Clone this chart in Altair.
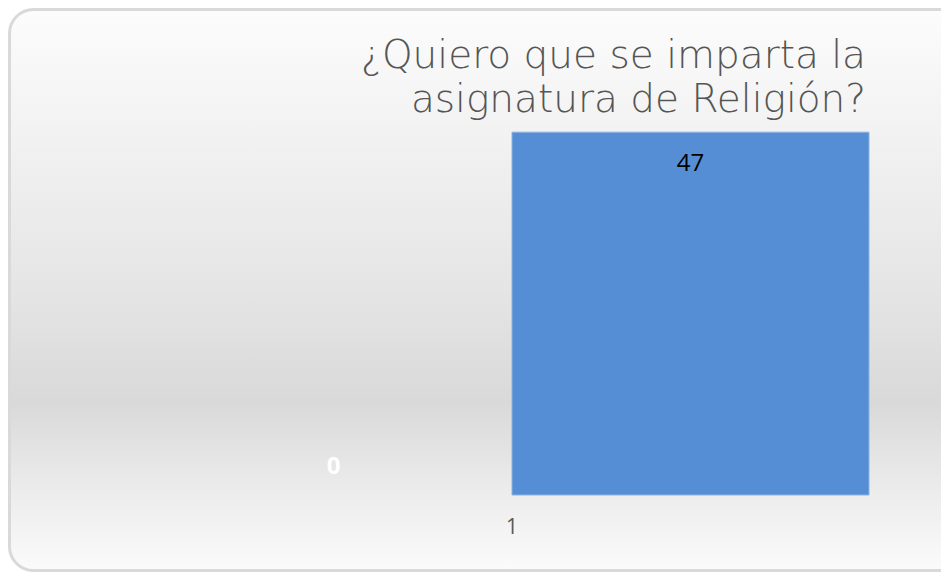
import altair as alt
import pandas as pd

# ---- data ----
categories = ["1", "1"]
series = ["Serie1", "Serie2"]
values = [0, 47]
title_lines = ["¿Quiero que se imparta la", "asignatura de Religión?"]

df = pd.DataFrame({"cat": categories, "series": series, "value": values})

W, H = 714, 386
PAD = {"left": 147, "top": 101, "right": 72, "bottom": 77}

gradient = {
    "gradient": "linear", "x1": 0, "y1": 0, "x2": 0, "y2": 1,
    "stops": [
        {"offset": 0.0, "color": "#fcfcfc"},
        {"offset": 0.2, "color": "#f3f3f3"},
        {"offset": 0.5, "color": "#e5e5e5"},
        {"offset": 0.7, "color": "#d9d9d9"},
        {"offset": 0.85, "color": "#ebebeb"},
        {"offset": 1.0, "color": "#fbfbfb"},
    ],
}

bg = alt.Chart(pd.DataFrame({"k": [0]})).mark_rect(
    fill=gradient, stroke="#d9d9d9", strokeWidth=3, cornerRadius=24
).encode(
    x=alt.value(-145.5), x2=alt.value(W + 120),
    y=alt.value(-99.5), y2=alt.value(H + 75.5),
)

title = alt.Chart(pd.DataFrame({"t": [title_lines]})).mark_text(
    font="DejaVu Sans", fontSize=39, fontWeight=300, color="#555555",
    align="right", baseline="alphabetic", lineHeight=44,
).encode(x=alt.value(W - 3), y=alt.value(-41), text="t")

x_enc = alt.X(
    "cat:N",
    title=None,
    scale=alt.Scale(paddingInner=0, paddingOuter=0),
    axis=alt.Axis(
        labelAngle=0, labelFont="Open Sans", labelFontSize=21,
        labelColor="#595959", ticks=False, tickSize=0, domain=False,
        labelPadding=32, labelBaseline="middle", grid=False, zindex=1,
    ),
)
xo_enc = alt.XOffset("series:N", scale=alt.Scale(paddingInner=0, paddingOuter=0))
y_enc = alt.Y("value:Q", scale=alt.Scale(domain=[0, 50]), axis=None)

base = alt.Chart(df)

bars = base.mark_bar(color="#558ed5", stroke="#8db3e2", strokeWidth=1).encode(
    x=x_enc, xOffset=xo_enc, y=y_enc,
    strokeOpacity=alt.condition("datum.value > 0", alt.value(1), alt.value(0)),
)

lab_pos = base.transform_filter("datum.value > 0").mark_text(
    dy=32, font="Open Sans", fontSize=24, color="#000000", baseline="middle"
).encode(x=x_enc, xOffset=xo_enc, y=y_enc, text="value:Q")

lab_zero = base.transform_filter("datum.value == 0").mark_text(
    dy=-28, font="Open Sans", fontSize=24, fontWeight="bold",
    color="#ffffff", baseline="middle"
).encode(x=x_enc, xOffset=xo_enc, y=y_enc, text="value:Q")

chart = alt.layer(bg, bars, lab_pos, lab_zero, title).properties(
    width=W, height=H,
    padding=PAD,
    autosize="none",
).configure_view(stroke=None).configure(background="#ffffff")

chart.save("out.html", embed_options={"renderer": "svg", "actions": False})
